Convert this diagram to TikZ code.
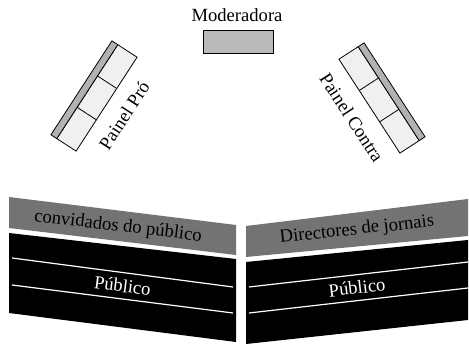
\documentclass[tikz,border=0pt]{standalone}
\usepackage{fontspec}
\setmainfont{Liberation Serif}
\tikzset{
  shaded/.style={fill=black!55},
  seats/.style={fill=black},
  rowline/.style={draw=white, line width=1.2pt},
  panelbox/.style={draw, line width=0.8pt, fill=black!6},
  panelstrip/.style={draw, line width=0.8pt, fill=black!30},
}
\begin{document}
\begin{tikzpicture}[x=1pt, y=-1pt, node font=\fontsize{18.6}{22}\selectfont]
  \useasboundingbox (0,0) rectangle (469,344);
  % moderadora
  \draw [line width=0.8pt, fill=black!27] (203,30) rectangle (273,53);
  \node [anchor=base] (moderadora) at (237,22) {Moderadora};
  % painel pro
  \begin{scope}[shift={(94,96)}, rotate=57]
    \draw [panelbox] (-56,-8) rectangle (56,15);
    \draw [panelstrip] (-56,-15) rectangle (56,-8);
    \foreach \x in {-18.7,18.7}
      \draw [line width=0.8pt] (\x,-8) -- (\x,15);
    \node [rotate=57] (pro) at (0,36) {Painel Pró};
  \end{scope}
  % painel contra
  \begin{scope}[shift={(382,98)}, rotate=-57]
    \draw [panelbox] (-56,-8) rectangle (56,15);
    \draw [panelstrip] (-56,-15) rectangle (56,-8);
    \foreach \x in {-18.7,18.7}
      \draw [line width=0.8pt] (\x,-8) -- (\x,15);
    \node [rotate=-57] (contra) at (0,36) {Painel Contra};
  \end{scope}
  % left block
  \fill [shaded] (9,197) -- (236,225) -- (236,255) -- (9,228) -- cycle;
  \fill [seats] (9,233) -- (236,259) -- (236,342) -- (9,313) -- cycle;
  \foreach \ya/\yb in {258/287, 285/313}
    \draw [rowline] (12,\ya) -- (233,\yb);
  % right block
  \fill [shaded] (246,226) -- (468,199) -- (468,236) -- (246,257) -- cycle;
  \fill [seats] (246,262) -- (468,240) -- (468,320) -- (246,344) -- cycle;
  \foreach \ya/\yb in {287/262, 313/288}
    \draw [rowline] (249,\ya) -- (468,\yb);
  % labels
  \path (9,213.5) -- (236,241)
    node [sloped, pos=0.48] (convidados) {convidados do público};
  \path (9,271.5) -- (236,300)
    node [sloped, midway, text=white] (publicoL) {Público};
  \path (246,242) -- (468,218)
    node [sloped, midway] (directores) {Directores de jornais};
  \path (246,300) -- (468,275)
    node [sloped, midway, text=white] (publicoR) {Público};
\end{tikzpicture}
\end{document}
